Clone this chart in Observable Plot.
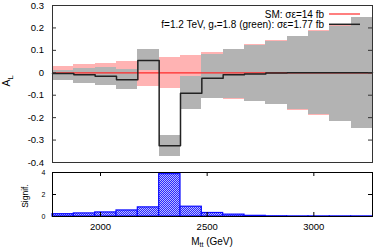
<!DOCTYPE html>
<html><head><meta charset="utf-8">
<script src="https://cdn.jsdelivr.net/npm/d3@7"></script>
<script src="https://cdn.jsdelivr.net/npm/@observablehq/plot@0.6"></script>
<style>body{margin:0;background:#fff} svg{display:block}</style>
</head><body><div id="chart"></div>
<script>
// Bins in M_tt (GeV)
const binLo = [1775,1875,1975,2075,2175,2275,2375,2475,2575,2675,2775,2875,2975,3075,3175];
const binHi = [1875,1975,2075,2175,2275,2375,2475,2575,2675,2775,2875,2975,3075,3175,3275];
// SM A_L central value and band (pink)
const smVal  = [0,0,0,0,0,0,0,0,0,0,0,0,0,0,0];
const smLow  = [-0.028,-0.037,-0.043,-0.052,-0.060,-0.068,-0.077,-0.092,-0.117,-0.129,-0.143,-0.167,-0.189,-0.219,-0.249];
const smHigh = [0.028,0.037,0.043,0.052,0.060,0.068,0.077,0.092,0.106,0.124,0.142,0.164,0.188,0.210,0.247];
// Signal A_L central value and band (gray)
const sigVal  = [-0.003,-0.009,-0.016,-0.031,0.055,-0.325,-0.091,-0.024,-0.009,-0.005,-0.001,0,0,0,0];
const sigLow  = [-0.034,-0.046,-0.058,-0.076,0.010,-0.373,-0.165,-0.113,-0.116,-0.127,-0.141,-0.165,-0.187,-0.217,-0.247];
const sigHigh = [0.010,0.018,0.025,0.016,0.1025,-0.280,-0.018,0.080,0.1025,0.122,0.140,0.162,0.186,0.208,0.245];
// Significance per bin
const signif = [0.21,0.28,0.37,0.55,0.83,3.85,0.89,0.32,0.17,0.06,0.02,0.01,0.01,0.01,0.01];
// Ticks
const xTicks = [2000,2500,3000];
const yTicks = [-0.4,-0.3,-0.2,-0.1,0,0.1,0.2,0.3];
const sTicks = [0,2,4];
// Legend
const legendText = ["SM: σε=14 fb", "f=1.2 TeV, g", "*", "=1.8 (green): σε=1.77 fb"];

const FONT = "Liberation Sans, Arial, Helvetica, sans-serif";
const W = 374;
const bins = binLo.map((x1,i)=>({x1, x2: binHi[i], smLo: smLow[i], smHi: smHigh[i], sLo: sigLow[i], sHi: sigHigh[i], sg: signif[i]}));
const stepPts = (vals) => binLo.map((x,i)=>({x, y: vals[i]})).concat([{x: binHi[binHi.length-1], y: vals[vals.length-1]}]);

const topPlot = Plot.plot({
  width: W, height: 167, marginLeft: 52, marginRight: 2, marginTop: 5, marginBottom: 5,
  x: {domain: [1775, 3275], axis: null},
  y: {domain: [-0.4, 0.3], axis: null},
  style: {fontFamily: FONT, background: "white", color: "#000"},
  marks: [
    Plot.rect(bins, {x1: "x1", x2: "x2", y1: "smLo", y2: "smHi", fill: "#ffb3b3", shapeRendering: "crispEdges"}),
    Plot.rect(bins, {x1: "x1", x2: "x2", y1: "sLo", y2: "sHi", fill: "#b3b3b3", shapeRendering: "crispEdges"}),
    Plot.line(stepPts(smVal), {x: "x", y: "y", curve: "step-after", stroke: "#ff2a2a", strokeWidth: 1.2}),
    Plot.line(stepPts(sigVal), {x: "x", y: "y", curve: "step-after", stroke: "#222", strokeWidth: 1.5}),
    Plot.ruleY(yTicks, {insetRight: 316, stroke: "#333"}),
    Plot.ruleY(yTicks, {insetLeft: 316, stroke: "#333"}),
    Plot.axisY({ticks: yTicks, tickSize: 0, tickPadding: 8.5, fontSize: 9.5, label: null, tickFormat: d => d === 0 ? "0" : d.toFixed(1)}),
    Plot.frame({stroke: "#333"})
  ]
});

const botPlot = Plot.plot({
  width: W, height: 83, marginLeft: 52, marginRight: 2, marginTop: 5, marginBottom: 34,
  x: {domain: [1775, 3275], label: null},
  y: {domain: [0, 4], label: null},
  style: {fontFamily: FONT, background: "white", color: "#000"},
  marks: [
    Plot.rect(bins, {x1: "x1", x2: "x2", y1: 0, y2: "sg", fill: "url(#checker)", stroke: "#0a0aff", strokeWidth: 1.2}),
    Plot.ruleX(xTicks, {insetTop: 40, stroke: "#000"}),
    Plot.ruleX(xTicks, {insetBottom: 40, stroke: "#000"}),
    Plot.ruleY(sTicks, {insetRight: 316, stroke: "#000"}),
    Plot.ruleY(sTicks, {insetLeft: 316, stroke: "#000"}),
    Plot.axisX({ticks: xTicks, tickSize: 0, tickPadding: 7, fontSize: 9.5, label: null, tickFormat: d => String(d)}),
    Plot.axisY({ticks: sTicks, tickSize: 0, tickPadding: 7, fontSize: 7, label: null, tickFormat: d => String(d)}),
    Plot.frame({stroke: "#000"})
  ]
});

const chart = document.getElementById("chart");
chart.appendChild(topPlot);
chart.appendChild(botPlot);

// checker pattern for significance bars
const defs = d3.select(botPlot).insert("defs", ":first-child");
const pat = defs.append("pattern").attr("id", "checker").attr("width", 2).attr("height", 2).attr("patternUnits", "userSpaceOnUse");
pat.append("rect").attr("width", 2).attr("height", 2).attr("fill", "#babaff");
pat.append("rect").attr("width", 1).attr("height", 1).attr("fill", "#2a2aff");
pat.append("rect").attr("x", 1).attr("y", 1).attr("width", 1).attr("height", 1).attr("fill", "#2a2aff");

// Top panel: y label and legend
const ts = d3.select(topPlot);
const al = ts.append("text").attr("transform", "translate(9.5,81) rotate(-90)").attr("text-anchor", "middle")
  .attr("font-size", 10.5).attr("font-family", FONT).attr("fill", "#000");
al.append("tspan").text("A");
al.append("tspan").attr("font-size", 7.5).attr("dy", 3).text("L");

const lg = ts.append("g").attr("font-family", FONT).attr("font-size", 10).attr("fill", "#000");
lg.append("text").attr("x", 324).attr("y", 17.5).attr("text-anchor", "end").text(legendText[0]);
const l2 = lg.append("text").attr("x", 324).attr("y", 27.5).attr("text-anchor", "end");
l2.append("tspan").text(legendText[1]);
l2.append("tspan").attr("font-size", 7).attr("dy", 2).text(legendText[2]);
l2.append("tspan").attr("dy", -2).text(legendText[3]);
lg.append("line").attr("x1", 329).attr("x2", 360).attr("y1", 14).attr("y2", 14).attr("stroke", "#ff2a2a").attr("stroke-width", 1.2);
lg.append("line").attr("x1", 329).attr("x2", 360).attr("y1", 24.3).attr("y2", 24.3).attr("stroke", "#222").attr("stroke-width", 1.5);

// Bottom panel: y label and x label
const bs = d3.select(botPlot);
bs.append("text").attr("transform", "translate(27.5,29) rotate(-90)").attr("text-anchor", "middle")
  .attr("font-size", 8.5).attr("font-family", FONT).attr("fill", "#000").text("Signif.");
const mx = bs.append("text").attr("x", 212).attr("y", 77.5).attr("text-anchor", "middle")
  .attr("font-size", 10).attr("font-family", FONT).attr("fill", "#000");
mx.append("tspan").text("M");
mx.append("tspan").attr("font-size", 7).attr("dy", 2.5).text("tt");
mx.append("tspan").attr("dy", -2.5).text(" (GeV)");
</script>
</body></html>
